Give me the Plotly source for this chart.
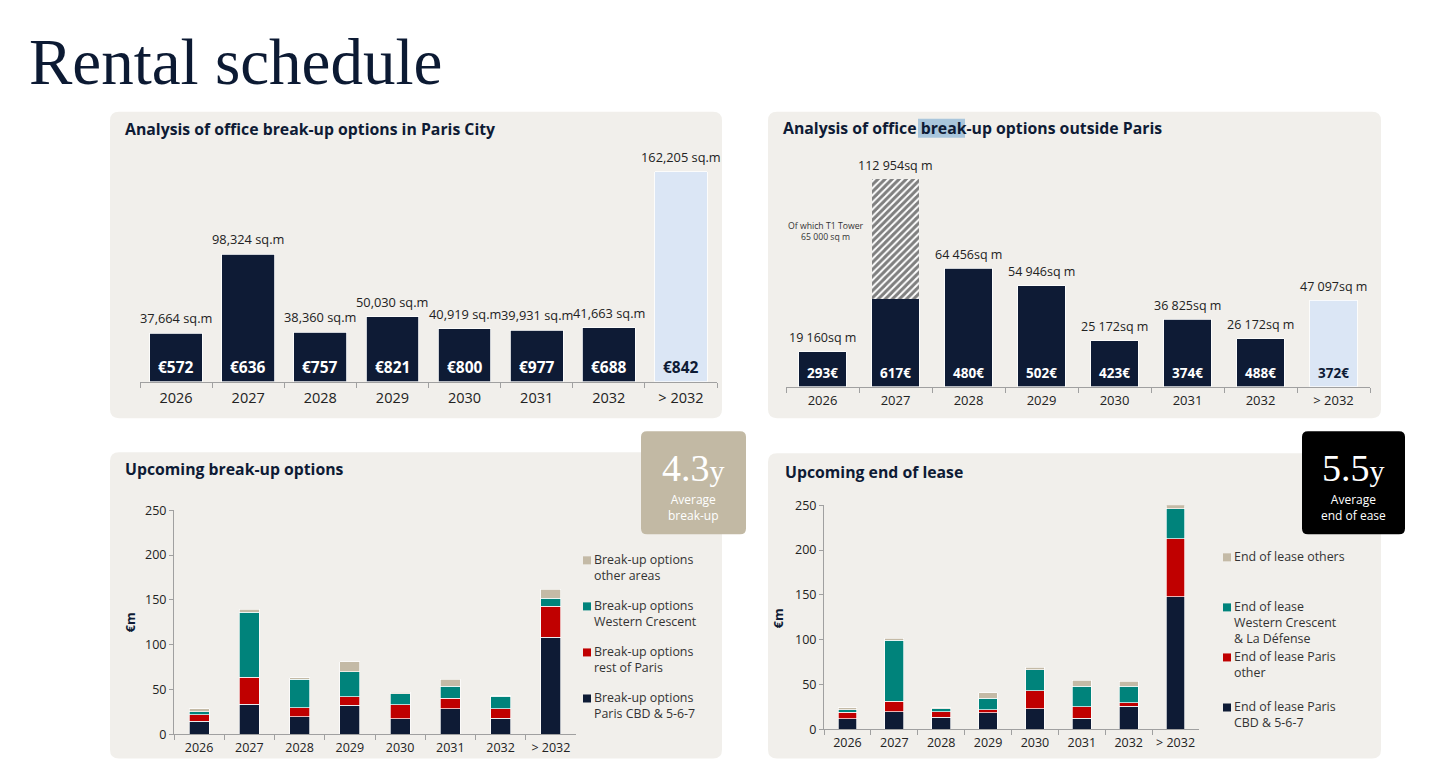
import plotly.graph_objects as go

W, H = 1456, 777
# observed rendering maps y -> 8.3 + 0.977*y ; place things at their target screen y
def X(px): return px / W
def Y(py): return 1 - ((py - 8.3) / 0.977) / H

# ---------------- DATA ----------------
years = ["2026", "2027", "2028", "2029", "2030", "2031", "2032", "> 2032"]

paris_sqm = [37664, 98324, 38360, 50030, 40919, 39931, 41663, 162205]
paris_rent = ["€572", "€636", "€757", "€821", "€800", "€977", "€688", "€842"]

outside_sqm_total = [19160, 112954, 64456, 54946, 25172, 36825, 26172, 47097]
outside_t1_tower = [0, 65000, 0, 0, 0, 0, 0, 0]
outside_rent = ["293€", "617€", "480€", "502€", "423€", "374€", "488€", "372€"]

breakup_cbd = [14.5, 33.2, 19.7, 32.4, 17.1, 28.7, 17.9, 108.0]
breakup_rest = [7.1, 30.5, 9.7, 9.7, 15.7, 11.2, 10.8, 34.7]
breakup_wc = [3.7, 72.7, 32.1, 27.9, 12.3, 13.8, 13.8, 8.9]
breakup_other = [3.4, 2.9, 1.5, 10.8, 1.5, 7.4, 0.7, 10.5]

lease_cbd = [11.5, 19.7, 13.4, 18.3, 22.7, 12.3, 25.7, 147.9]
lease_other_paris = [7.5, 11.6, 6.3, 3.7, 20.1, 13.0, 3.7, 64.5]
lease_wc = [3.0, 68.2, 3.0, 12.6, 23.5, 22.8, 18.3, 33.5]
lease_others = [1.8, 1.8, 1.1, 6.0, 2.6, 6.3, 5.6, 4.8]

breakup_legend = ["Break-up options<br>other areas", "Break-up options<br>Western Crescent",
                  "Break-up options<br>rest of Paris", "Break-up options<br>Paris CBD & 5-6-7"]
lease_legend = ["End of lease others", "End of lease<br>Western Crescent<br>& La Défense",
                "End of lease Paris<br>other", "End of lease Paris<br>CBD & 5-6-7"]

avg_breakup = "4.3"
avg_lease = "5.5"

# ---------------- STYLE ----------------
NAVY = "#0e1b35"
RED = "#c00000"
TEAL = "#00837b"
BEIGE = "#c4baa6"
LIGHTBLUE = "#dbe6f5"
PANEL = "#f1efeb"
FONT = "Open Sans"
TXT = "#222222"

fig = go.Figure()

c1_colors = [NAVY] * 7 + [LIGHTBLUE]
fig.add_trace(go.Bar(x=years, y=paris_sqm, marker=dict(color=c1_colors, line=dict(width=0.8, color="white")),
                     width=0.73, xaxis="x", yaxis="y", showlegend=False))

outside_solid = [t - h for t, h in zip(outside_sqm_total, outside_t1_tower)]
c2_colors = [NAVY] * 7 + [LIGHTBLUE]
fig.add_trace(go.Bar(x=years, y=outside_solid, marker=dict(color=c2_colors, line=dict(width=0.8, color="white")),
                     width=0.65, xaxis="x2", yaxis="y2", showlegend=False))
fig.add_trace(go.Bar(x=years, y=outside_t1_tower,
                     marker=dict(color="white", line=dict(width=0),
                                 pattern=dict(shape="/", fgcolor="#000000", bgcolor="white", size=5, solidity=0.6)),
                     width=0.65, xaxis="x2", yaxis="y2", showlegend=False))

for vals, col in [(breakup_cbd, NAVY), (breakup_rest, RED), (breakup_wc, TEAL), (breakup_other, BEIGE)]:
    fig.add_trace(go.Bar(x=years, y=vals, marker=dict(color=col, line=dict(width=0.7, color="white")),
                         width=0.4, xaxis="x3", yaxis="y3", showlegend=False))

for vals, col in [(lease_cbd, NAVY), (lease_other_paris, RED), (lease_wc, TEAL), (lease_others, BEIGE)]:
    fig.add_trace(go.Bar(x=years, y=vals, marker=dict(color=col, line=dict(width=0.7, color="white")),
                         width=0.4, xaxis="x4", yaxis="y4", showlegend=False))

def cat_xaxis(d0, d1, anchor, fsize, standoff):
    return dict(domain=[X(d0), X(d1)], anchor=anchor, type="category", range=[-0.5, 7.5],
                tickson="boundaries", ticks="outside", ticklen=5, tickcolor="#a0a0a0",
                showline=True, linecolor="#a0a0a0", linewidth=1, showgrid=False, zeroline=False,
                ticklabelstandoff=standoff,
                tickfont=dict(family=FONT, size=fsize, color=TXT), fixedrange=True)

def val_yaxis(b, t, anchor):
    return dict(domain=[Y(b), Y(t)], anchor=anchor, range=[0, 250], tickvals=[0, 50, 100, 150, 200, 250],
                ticks="outside", ticklen=4, tickcolor="#a0a0a0", showline=True, linecolor="#a0a0a0",
                showgrid=False, zeroline=False, tickfont=dict(family=FONT, size=12.5, color=TXT), fixedrange=True)

c1_top = 772.5 * (380.7 - 150)
c2_top = 545.0 * (385.7 - 150)

fig.update_layout(
    width=W, height=H, autosize=False,
    margin=dict(l=0, r=0, t=0, b=0, pad=0),
    paper_bgcolor="white", plot_bgcolor="rgba(0,0,0,0)",
    barmode="stack",
    font=dict(family=FONT, color=TXT),
    xaxis=cat_xaxis(140, 717, "y", 14.5, 3),
    yaxis=dict(domain=[Y(380.7), Y(150)], range=[0, c1_top], visible=False, fixedrange=True),
    xaxis2=cat_xaxis(786, 1370, "y2", 13, 2),
    yaxis2=dict(domain=[Y(385.7), Y(150)], range=[0, c2_top], visible=False, fixedrange=True),
    xaxis3=cat_xaxis(174, 576, "y3", 12.5, 2),
    yaxis3=val_yaxis(732.7, 509, "x3"),
    xaxis4=cat_xaxis(824, 1199, "y4", 12.5, 2),
    yaxis4=val_yaxis(727.7, 504, "x4"),
)

def rrect(x0, y0, x1, y1, r):
    rx, ry = r / W, r / H
    a0, a1 = X(x0), X(x1)
    b0, b1 = Y(y0), Y(y1)
    return (f"M {a0+rx},{b0} L {a1-rx},{b0} Q {a1},{b0} {a1},{b0-ry} "
            f"L {a1},{b1+ry} Q {a1},{b1} {a1-rx},{b1} L {a0+rx},{b1} Q {a0},{b1} {a0},{b1+ry} "
            f"L {a0},{b0-ry} Q {a0},{b0} {a0+rx},{b0} Z")

shapes = []
for (x0, y0, x1, y1) in [(110, 111, 722, 417), (768, 111, 1381, 417), (110, 451, 722, 757), (768, 452, 1381, 757)]:
    shapes.append(dict(type="path", path=rrect(x0, y0, x1, y1, 9), xref="paper", yref="paper",
                       fillcolor=PANEL, line=dict(width=0), layer="below"))
shapes.append(dict(type="path", path=rrect(641, 430, 746, 533, 6), xref="paper", yref="paper",
                   fillcolor="#c2b9a4", line=dict(width=0), layer="below"))
shapes.append(dict(type="path", path=rrect(1302, 430, 1405, 533, 6), xref="paper", yref="paper",
                   fillcolor="#000000", line=dict(width=0), layer="below"))
shapes.append(dict(type="rect", xref="paper", yref="paper", x0=X(918), x1=X(965), y0=Y(137), y1=Y(118),
                   fillcolor="#a9c6dc", line=dict(width=0), layer="below"))

leg_cols = [BEIGE, TEAL, RED, NAVY]
leg3_y = [559, 605, 651, 697]
leg4_y = [556, 606, 656, 706]
for col, yy in zip(leg_cols, leg3_y):
    shapes.append(dict(type="rect", xref="paper", yref="paper", x0=X(583), x1=X(591), y0=Y(yy + 4), y1=Y(yy - 4),
                       fillcolor=col, line=dict(width=0)))
for col, yy in zip(leg_cols, leg4_y):
    shapes.append(dict(type="rect", xref="paper", yref="paper", x0=X(1223), x1=X(1231), y0=Y(yy + 4), y1=Y(yy - 4),
                       fillcolor=col, line=dict(width=0)))
fig.update_layout(shapes=shapes)

ann = []
def pa(x, y, text, size, color=TXT, bold=False, xanchor="left", yanchor="middle", family=FONT, align="left", angle=0):
    ann.append(dict(xref="paper", yref="paper", x=X(x), y=Y(y), text=(f"<b>{text}</b>" if bold else text),
                    showarrow=False, xanchor=xanchor, yanchor=yanchor, align=align, textangle=angle,
                    font=dict(family=family, size=size, color=color)))

pa(27, 61, "Rental schedule", 65, color="#0c1a33", family="Liberation Serif")

pa(123, 128, "Analysis of office break-up options in Paris City", 15.8, color=NAVY, bold=True)
pa(781, 127, "Analysis of office break-up options outside Paris", 15.8, color=NAVY, bold=True)
pa(123, 468, "Upcoming break-up options", 15.8, color=NAVY, bold=True)
pa(783, 471, "Upcoming end of lease", 15.8, color=NAVY, bold=True)

for i, (v, r) in enumerate(zip(paris_sqm, paris_rent)):
    ann.append(dict(xref="x", yref="y", x=i, y=v, text=f"{v:,} sq.m", showarrow=False, yanchor="middle",
                    yshift=15, font=dict(family=FONT, size=12.8, color=TXT)))
    ann.append(dict(xref="x", yref="y", x=i, y=0, text=f"<b>{r}</b>", showarrow=False, yanchor="middle",
                    yshift=15, font=dict(family=FONT, size=15.5, color=(NAVY if i == 7 else "white"))))

for i, (v, r) in enumerate(zip(outside_sqm_total, outside_rent)):
    lab = f"{v:,}".replace(",", " ") + "sq m"
    ann.append(dict(xref="x2", yref="y2", x=i, y=v, text=lab, showarrow=False, yanchor="middle",
                    yshift=14, font=dict(family=FONT, size=12.5, color=TXT)))
    ann.append(dict(xref="x2", yref="y2", x=i, y=0, text=f"<b>{r}</b>", showarrow=False, yanchor="middle",
                    yshift=14, font=dict(family=FONT, size=13.5, color=(NAVY if i == 7 else "white"))))
pa(826, 230.5, "Of which T1 Tower<br>65 000 sq m", 8.7, color="#333333", xanchor="center", align="center")

pa(130, 621, "€m", 13, color=NAVY, bold=True, xanchor="center", angle=-90)
pa(778, 617, "€m", 13, color=NAVY, bold=True, xanchor="center", angle=-90)

for t, yy in zip(breakup_legend, leg3_y):
    pa(592, yy - 11, t, 12.4, color="#333333", yanchor="top")
for t, yy in zip(lease_legend, leg4_y):
    pa(1232, yy - 11, t, 12.4, color="#333333", yanchor="top")

pa(693, 467, f"{avg_breakup}<span style='font-size:30px'>y</span>", 38, color="white",
   xanchor="center", family="Liberation Serif")
pa(693, 506, "Average<br>break-up", 12, color="white", xanchor="center", align="center")
pa(1353, 467, f"{avg_lease}<span style='font-size:30px'>y</span>", 38, color="white",
   xanchor="center", family="Liberation Serif")
pa(1353, 506, "Average<br>end of ease", 12, color="white", xanchor="center", align="center")

fig.update_layout(annotations=ann)

fig.write_html(
    "out.html",
    config={"displayModeBar": False},
    post_script=("document.documentElement.style.margin='0';document.body.style.margin='0';"
                 "document.documentElement.style.overflow='hidden';document.body.style.overflow='hidden';"
                 "var d=document.getElementById('{plot_id}');d.style.position='fixed';"
                 "d.style.left='0px';d.style.top='0px';"),
)
